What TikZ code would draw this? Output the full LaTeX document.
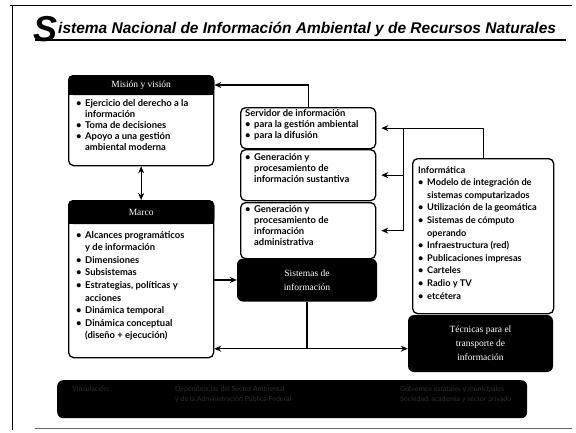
\documentclass[tikz,border=0pt]{standalone}
\usepackage{fontspec}
\setmainfont{Lato}
\newfontfamily\titlefont{Liberation Sans}
\newfontfamily\hdrfont{Liberation Serif}
\usetikzlibrary{arrows.meta,calc}
\newcommand{\bl}{\makebox[9pt][l]{\textbullet}}
\newcommand{\ind}{\hspace*{9pt}}
\tikzset{
  frame/.style={draw, line width=1.3pt, rounded corners=5pt, fill=white, inner sep=0pt, anchor=north west},
  blackbox/.style={fill=black, rounded corners=6pt, inner sep=0pt},
  txt/.style={font=\fontsize{9.4}{11}\selectfont\bfseries, align=left, inner sep=0pt, anchor=north west},
  hdrtxt/.style={text=white, font=\hdrfont\fontsize{9.5}{14}\selectfont, align=center},
  bartxt/.style={text=black!82, font=\fontsize{7}{10}\selectfont, align=left, inner sep=0pt, anchor=north west},
  arr/.style={line width=1.3pt, -{Stealth[length=7pt,width=6pt]}},
  dblarr/.style={line width=1.3pt, {Stealth[length=7pt,width=6pt]}-{Stealth[length=7pt,width=6pt]}},
  conn/.style={line width=1.3pt},
}
\begin{document}
\begin{tikzpicture}[x=1pt,y=-1pt]
\useasboundingbox (0,0) rectangle (576,432);
% outer frame
\draw[line width=1pt] (10,5) -- (572,5);
\draw[line width=1pt] (12,5) -- (12,430);
\draw[line width=0.8pt, black!60] (35,428) -- (572,428);
% title
\node[anchor=base west, inner sep=0pt] (tS) at (33,41) {\titlefont\itshape\bfseries\fontsize{36}{36}\selectfont S};
\node[anchor=base west, inner sep=0pt] (tt) at (58,33) {\titlefont\itshape\bfseries\fontsize{15.5}{16}\selectfont istema Nacional de Información Ambiental y de Recursos Naturales};
\draw[line width=1.5pt] (35,40) -- (566,40);

% Mision y vision
\node[frame, minimum width=145pt, minimum height=90pt] (mis) at (68,75) {};
\fill[black, rounded corners=5pt] (mis.north west) rectangle ($(mis.north east)+(0,20)$);
\fill[black] ($(mis.north west)+(0,10)$) rectangle ($(mis.north east)+(0,20)$);
\node[hdrtxt] (misH) at ($(mis.north)+(0,10)$) {Misión y visión};
\node[txt] (misT) at (76,99) {\bl Ejercicio del derecho a la\\\ind información\\\bl Toma de decisiones\\\bl Apoyo a una gestión\\\ind ambiental moderna};

% Marco
\node[frame, minimum width=145pt, minimum height=157pt] (marco) at (68,200) {};
\fill[black, rounded corners=5pt] (marco.north west) rectangle ($(marco.north east)+(0,24)$);
\fill[black] ($(marco.north west)+(0,12)$) rectangle ($(marco.north east)+(0,24)$);
\node[hdrtxt] (marcoH) at ($(marco.north)+(0,12)$) {Marco};
\node[txt, font=\fontsize{9.4}{12.6}\selectfont\bfseries] (marcoT) at (76,231) {\bl Alcances programáticos\\\ind y de información\\\bl Dimensiones\\\bl Subsistemas\\\bl Estrategias, políticas y\\\ind acciones\\\bl Dinámica temporal\\\bl Dinámica conceptual\\\ind (diseño + ejecución)};

% middle column
\node[frame, minimum width=135pt, minimum height=41pt] (serv) at (240,107) {};
\node[txt] (servT) at (245,109) {Servidor de información\\\bl para la gestión ambiental\\\bl para la difusión};
\node[frame, minimum width=135pt, minimum height=51pt] (gen1) at (240,149) {};
\node[txt] (gen1T) at (245,153) {\bl Generación y\\\ind procesamiento de\\\ind información sustantiva};
\node[frame, minimum width=135pt, minimum height=56pt] (gen2) at (240,202) {};
\node[txt] (gen2T) at (245,205) {\bl Generación y\\\ind procesamiento de\\\ind información\\\ind administrativa};
\node[blackbox, hdrtxt, minimum width=140pt, minimum height=43pt] (sis) at (307,280) {Sistemas de\\información};

% right column
\node[frame, minimum width=141pt, minimum height=155pt] (info) at (412,158) {};
\node[txt, font=\fontsize{9.2}{12.6}\selectfont\bfseries] (infoT) at (418,166) {Informática\\\bl Modelo de integración de\\\ind sistemas computarizados\\\bl Utilización de la geomática\\\bl Sistemas de cómputo\\\ind operando\\\bl Infraestructura (red)\\\bl Publicaciones impresas\\\bl Carteles\\\bl Radio y TV\\\bl etcétera};
\node[blackbox, hdrtxt, minimum width=145pt, minimum height=57pt] (tec) at (480.5,343.5) {Técnicas para el\\transporte de\\información};

% bottom bar
\node[blackbox, minimum width=470pt, minimum height=38pt, anchor=north west] (bar) at (57,380) {};
\node[bartxt] (barA) at (72,386) {Vinculación:};
\node[bartxt] (barB) at (175,386) {Dependencias del Sector Ambiental\\y de la Administración Pública Federal};
\node[bartxt] (barC) at (400,386) {Gobiernos estatales y municipales\\Sociedad, academia y sector privado};

% connectors
\draw[arr] (serv.north) |- (misH -| mis.east);
\draw[dblarr] (mis.south) -- (marco.north);
\draw[arr, shorten >=5pt] (info.north) |- (serv.east);
\path (serv.east) ++(27,0) coordinate (br);
\draw[arr, shorten >=5pt] (br) |- (gen1.east);
\draw[arr, shorten >=5pt] (br) |- (gen2.east);
\draw[arr] (sis.west -| marco.east) -- (sis.west);
\path (sis.south) ++(0,47) coordinate (j);
\draw[conn] (sis.south) -- (j);
\draw[arr] (j) -- (j -| marco.east);
\draw[arr] (j) -- (j -| tec.west);
\end{tikzpicture}
\end{document}
